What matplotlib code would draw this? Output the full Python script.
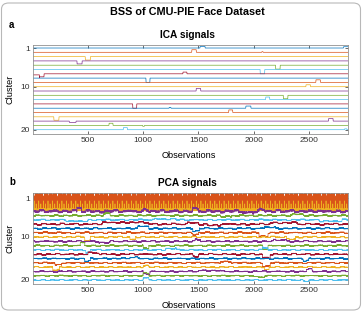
import numpy as np
import matplotlib.pyplot as plt
from matplotlib.patches import FancyBboxPatch

plt.rcParams['font.family'] = ['Liberation Sans', 'DejaVu Sans']

# MATLAB default colour order
colors = ["#0072BD", "#D95319", "#EDB120", "#7E2F8E", "#77AC30", "#4DBEEE", "#A2142F"]

n_obs = 2856
per_subject = 42
x_ticks = [500, 1000, 1500, 2000, 2500]
y_ticks = [1, 10, 20]

# ICA signals: flat lines with short pulses (start, end, offset in cluster units)
ica_bumps = [
    [(1515, 1560, -0.35), (2815, 2856, -0.3)],
    [(1440, 1480, -0.6), (2075, 2085, -0.15)],
    [(475, 520, 0.8)],
    [(400, 445, 0.7)],
    [(2200, 2240, 0.9)],
    [(2060, 2100, 1.0)],
    [(1, 60, 0.25), (60, 100, 0.7), (1360, 1395, -0.4)],
    [(1025, 1060, 1.0)],
    [(2565, 2605, -0.6)],
    [(2475, 2515, -0.45)],
    [(1480, 1520, -0.6)],
    [(2270, 2310, 0.8)],
    [(2110, 2145, -0.6)],
    [(905, 940, 1.0)],
    [(1930, 1975, -0.5), (1235, 1250, -0.2)],
    [(1775, 1810, -0.6)],
    [(190, 235, 0.8)],
    [(330, 390, 0.3), (2680, 2720, -0.6)],
    [(690, 725, -0.5), (995, 1010, 0.2)],
    [(820, 855, -0.5), (2825, 2845, -0.2)],
]

# PCA signals: the first three components repeat once per subject (42 images)
pca_blue_cycle = [
    1.2, 2.4, 1.4, 2.2, 1.6, 2.6, 1.8, 2.1, 1.9, 2.5, 1.7, 2.3, 1.5, 2.6,
    1.3, 2.2, 1.2, 2.5, 1.4, 2.1, 1.3, 2.4, 1.2, 2.3, 1.1, 2.6, 1.2, 2.2,
    1.3, 2.5, 1.1, 2.3, 1.2, 2.4, 1.3, 2.2, 1.1, 2.5, 1.2, 2.3, 1.3, 2.4,
]
pca_orange_tops = [-0.8, -0.8, 0.0, 0.4, 0.7, 0.9, 1.0, 0.9, 0.7, 0.4, 0.0,
                   -0.8, -0.8, -0.8, -0.8, -0.8, -0.8, -0.8, -0.8, -0.8, -0.8]
pca_orange_lows = [3.1, 3.6, 2.7, 3.4, 3.0, 3.8, 2.6, 3.2, 2.9, 3.7, 2.7,
                   3.3, 3.1, 3.8, 2.8, 3.5, 2.5, 3.6, 3.0, 3.4, 2.9]
pca_yellow_cycle = [
    3.5, 3.8, 3.6, 3.9, 3.4, 3.7, 3.6, 3.9, 3.5, 3.8, 1.6, 3.7, 3.5, 3.9,
    3.6, 3.8, 3.4, 3.9, 3.6, 3.7, 3.5, 3.9, 3.6, 3.8, 3.3, 3.9, 3.5, 3.7,
    3.6, 2.3, 3.5, 3.8, 3.4, 3.9, 3.6, 3.7, 3.5, 3.9, 3.6, 3.8, 3.5, 3.9,
]
# level of the lower components from one subject to the next
pca_subject_levels = [
    0.0, 0.6, -0.4, 0.8, -0.2, 0.3, -0.7, 0.5, 0.1, -0.5, 0.7, -0.3, 0.4, -0.8,
    0.2, 0.5, -0.6, 0.3, -0.1, 0.9, -0.4, 0.2, -0.7, 0.6, 0.0, -0.3, 0.8, -0.5,
    0.3, -0.2, 0.6, -0.8, 0.4, 0.1, -0.6, 0.7, -0.1, 0.3, -0.5, 0.5, -0.3, 0.2,
]
# fine jitter inside one subject
pca_fine_jitter = [
    0.0, 0.5, -0.3, 0.8, -0.6, 0.2, -0.9, 0.4, 0.1, -0.4, 0.7, -0.2, 0.3, -0.8,
    0.6, 0.0, -0.5, 0.9, -0.1, 0.4, -0.7, 0.2, -0.3, 0.6, 0.1, -0.6, 0.8, -0.4,
    0.3, -0.2, 0.5, -0.9, 0.2, 0.0, -0.5, 0.7, -0.1, 0.4, -0.6, 0.3, -0.2, 0.1,
]
pca_level_amp = [0, 0, 0, 0.3, 0.2, 0.18, 0.22, 0.2, 0.2, 0.2,
                 0.2, 0.18, 0.18, 0.2, 0.18, 0.16, 0.16, 0.18, 0.14, 0.14]
pca_fine_amp = [0, 0, 0, 0.25, 0.12, 0.1, 0.12, 0.1, 0.1, 0.1,
                0.1, 0.1, 0.08, 0.1, 0.08, 0.08, 0.08, 0.08, 0.07, 0.07]
pca_steps = [
    [], [], [],
    [(400, 440, -0.8), (1000, 1050, -0.4), (1450, 1500, -0.5), (1900, 2000, 0.3), (2050, 2100, -0.4)],
    [(640, 700, -0.4), (1700, 1800, 0.3), (2350, 2450, -0.3)],
    [(300, 500, 0.3), (1100, 1300, -0.2), (2600, 2800, 0.3)],
    [(630, 1050, -0.4), (1400, 1500, -0.3), (1580, 1700, 0.3), (2150, 2400, -0.3)],
    [(950, 1050, -0.5), (1450, 1510, 0.6), (2100, 2200, -0.3)],
    [(1450, 1500, 0.4), (2050, 2130, 0.8)],
    [(470, 520, 0.8), (880, 930, 0.6), (2300, 2380, 0.5)],
    [(600, 700, 0.3), (1470, 1520, -0.4), (2180, 2300, -0.3)],
    [(430, 470, -0.7), (1000, 1050, 0.7), (2080, 2130, 0.8)],
    [(480, 520, 0.6), (1200, 1300, -0.3), (2080, 2130, -0.5)],
    [(500, 600, -0.3), (1450, 1500, 0.5), (2080, 2150, 0.8)],
    [(470, 520, 0.6), (880, 950, -0.3), (2450, 2500, 0.5)],
    [(200, 260, 0.5), (1700, 1800, -0.3), (2080, 2150, 0.8)],
    [(180, 240, 0.6), (1000, 1050, -0.4), (2100, 2140, 0.6)],
    [(1000, 1060, 0.6), (1500, 1700, -0.2), (2480, 2530, -0.5)],
    [(1000, 1050, -0.6), (2000, 2100, 0.3)],
    [(1000, 1050, -0.5), (2450, 2500, 0.3)],
]

obs = np.arange(1, n_obs + 1)


def add_steps(y, steps):
    for s, e, d in steps:
        y[(obs >= s) & (obs <= e)] += d
    return y


def style_axes(ax, ylim):
    ax.set_xlim(1, n_obs)
    ax.set_ylim(*ylim)
    ax.set_xticks(x_ticks)
    ax.set_yticks(y_ticks)
    ax.tick_params(direction="in", length=2, width=0.5, labelsize=6,
                   colors="#303030", top=True, right=True, pad=2)
    for s in ax.spines.values():
        s.set_color("#909090")
        s.set_linewidth(0.6)


fig = plt.figure(figsize=(3.64, 3.12), dpi=100)
W, H = 364.0, 312.0

# rounded frame around the figure
fig.patches.append(FancyBboxPatch((1.5 / W, 2 / H), 359 / W, 307 / H,
                                  boxstyle="round,pad=0,rounding_size=0.02",
                                  transform=fig.transFigure, fill=False,
                                  edgecolor="#b8b8b8", linewidth=0.8))

ax_ica = fig.add_axes([33 / W, 1 - 134 / H, 315 / W, 89 / H])
ax_pca = fig.add_axes([33 / W, 1 - 284.3 / H, 315 / W, 91.6 / H])

# ICA panel
for k, bumps in enumerate(ica_bumps):
    y = add_steps(np.full(n_obs, k + 1.0), bumps)
    ax_ica.plot(obs, y, color=colors[k % 7], lw=0.5)
style_axes(ax_ica, (21, 0.3))

# PCA panel
orange_cycle = [v for pair in zip(pca_orange_tops, pca_orange_lows) for v in pair]
top_cycles = [pca_blue_cycle, orange_cycle, pca_yellow_cycle]
levels = np.resize(np.repeat(pca_subject_levels, per_subject), n_obs)
fine = np.resize(np.array(pca_fine_jitter), n_obs)
for k in range(20):
    if k < 3:
        y = np.resize(np.array(top_cycles[k], float), n_obs)
    else:
        y = add_steps(np.full(n_obs, k + 1.0), pca_steps[k])
        y = y + pca_level_amp[k] * np.roll(levels, 300 * k)
        y = y + pca_fine_amp[k] * np.roll(fine, 5 * k)
    ax_pca.plot(obs, y, color=colors[k % 7], lw=0.5)
style_axes(ax_pca, (21, -0.3))

# texts
fig.text(187 / W, 1 - 12 / H, "BSS of CMU-PIE Face Dataset", ha="center", va="center",
         fontsize=7.8, fontweight="bold")
fig.text(9 / W, 1 - 25 / H, "a", ha="left", va="center", fontsize=7, fontweight="bold")
fig.text(187 / W, 1 - 35 / H, "ICA signals", ha="center", va="center",
         fontsize=7.3, fontweight="bold")
fig.text(189 / W, 1 - 155 / H, "Observations", ha="center", va="center", fontsize=6.6)
fig.text(10 / W, 1 - 89 / H, "Cluster", ha="center", va="center", rotation=90, fontsize=6.6)

fig.text(9 / W, 1 - 182 / H, "b", ha="left", va="center", fontsize=7, fontweight="bold")
fig.text(187 / W, 1 - 183 / H, "PCA signals", ha="center", va="center",
         fontsize=7.3, fontweight="bold")
fig.text(189 / W, 1 - 306 / H, "Observations", ha="center", va="center", fontsize=6.6)
fig.text(10 / W, 1 - 238 / H, "Cluster", ha="center", va="center", rotation=90, fontsize=6.6)

fig.savefig("out.png", dpi=100)
